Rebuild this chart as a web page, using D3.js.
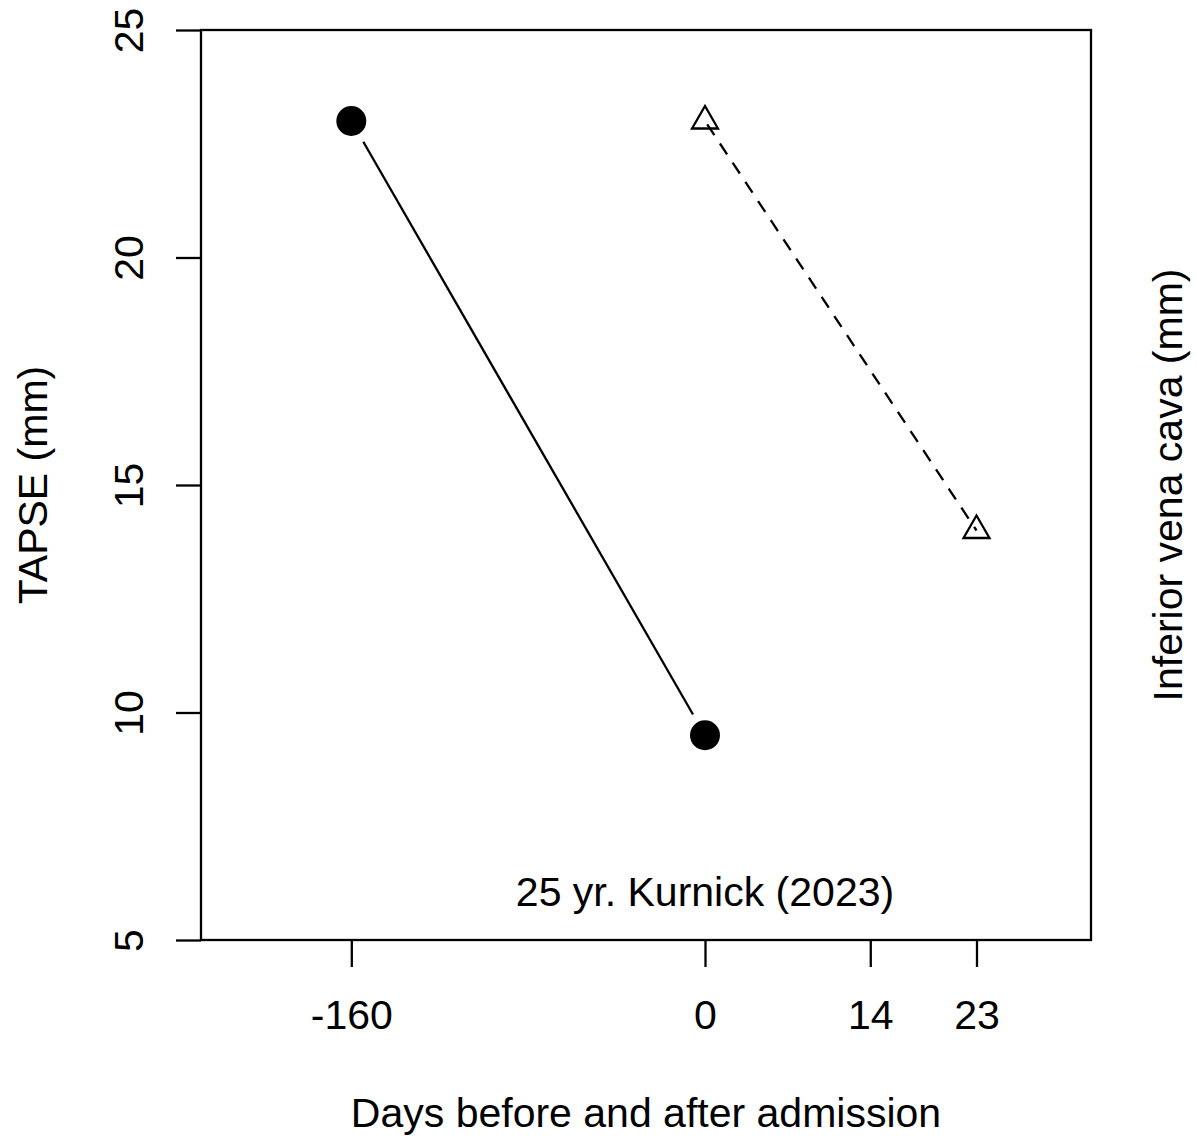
<!DOCTYPE html>
<html>
<head>
<meta charset="utf-8">
<script src="https://cdn.jsdelivr.net/npm/d3@7"></script>
<style>
    body { margin: 0; background: #fff; }
    text { font-family: "Liberation Sans", Arial, sans-serif; fill: #000; }
</style>
</head>
<body>
<div id="chart"></div>
<script>
// TAPSE series (filled circles, solid line)
var tapseDays = [-160, 0];
var tapseValues = [23, 9.5];
// Inferior vena cava series (open triangles, dashed line)
var ivcDays = [0, 23];
var ivcValues = [23, 14];

var xTicks = [-160, 0, 14, 23];
var yTicks = [5, 10, 15, 20, 25];

var width = 1196, height = 1136;
var box = { left: 201, right: 1091, top: 30, bottom: 940 };
var fontSize = 41;
var lw = 2.3;

var svg = d3.select("#chart").append("svg")
    .attr("width", width)
    .attr("height", height);

// days before admission are compressed, days after are stretched
var x = d3.scaleLinear()
    .domain([-228, 0, 32.7])
    .range([box.left, 705, box.right]);

var y = d3.scaleLinear()
    .domain([5, 25])
    .range([box.bottom, box.top]);

// plot frame
svg.append("rect")
    .attr("x", box.left)
    .attr("y", box.top)
    .attr("width", box.right - box.left)
    .attr("height", box.bottom - box.top)
    .attr("fill", "none")
    .attr("stroke", "#000")
    .attr("stroke-width", lw);

// x axis
var xAxis = svg.append("g")
    .attr("transform", "translate(0," + box.bottom + ")")
    .call(d3.axisBottom(x).tickValues(xTicks).tickFormat(function (d) { return String(d); })
        .tickSize(27).tickSizeOuter(0));
xAxis.select(".domain").remove();
xAxis.selectAll(".tick line").attr("stroke-width", lw);
xAxis.selectAll(".tick text")
    .attr("y", 89).attr("dy", null)
    .attr("font-size", fontSize)
    .attr("font-family", "Liberation Sans, Arial, sans-serif");

// y axis, labels rotated like R
var yAxis = svg.append("g")
    .attr("transform", "translate(" + box.left + ",0)")
    .call(d3.axisLeft(y).tickValues(yTicks).tickSize(25).tickSizeOuter(0));
yAxis.select(".domain").remove();
yAxis.selectAll(".tick line").attr("stroke-width", lw);
yAxis.selectAll(".tick text")
    .attr("x", null).attr("dy", null)
    .attr("transform", "translate(-58,0) rotate(-90)")
    .attr("text-anchor", "middle")
    .attr("font-size", fontSize)
    .attr("font-family", "Liberation Sans, Arial, sans-serif");

// axis titles
svg.append("text")
    .attr("x", (box.left + box.right) / 2)
    .attr("y", 1127)
    .attr("text-anchor", "middle")
    .attr("font-size", fontSize)
    .text("Days before and after admission");

svg.append("text")
    .attr("transform", "translate(47," + (box.top + box.bottom) / 2 + ") rotate(-90)")
    .attr("text-anchor", "middle")
    .attr("font-size", fontSize)
    .text("TAPSE (mm)");

svg.append("text")
    .attr("transform", "translate(1182," + (box.top + box.bottom) / 2 + ") rotate(-90)")
    .attr("text-anchor", "middle")
    .attr("font-size", fontSize)
    .text("Inferior vena cava (mm)");

// TAPSE: line with gaps around the points (type = "b")
var gap = 24;
for (var i = 0; i < tapseDays.length - 1; i++) {
    var x0 = x(tapseDays[i]), y0 = y(tapseValues[i]);
    var x1 = x(tapseDays[i + 1]), y1 = y(tapseValues[i + 1]);
    var len = Math.sqrt((x1 - x0) * (x1 - x0) + (y1 - y0) * (y1 - y0));
    var ux = (x1 - x0) / len, uy = (y1 - y0) / len;
    svg.append("line")
        .attr("x1", x0 + ux * gap).attr("y1", y0 + uy * gap)
        .attr("x2", x1 - ux * gap).attr("y2", y1 - uy * gap)
        .attr("stroke", "#000")
        .attr("stroke-width", lw);
}

svg.selectAll(".dot")
    .data(tapseDays)
    .enter().append("circle")
    .attr("class", "dot")
    .attr("cx", function (d) { return x(d); })
    .attr("cy", function (d, i) { return y(tapseValues[i]); })
    .attr("r", 15)
    .attr("fill", "#000");

// IVC: dashed line and open triangles
var ivcLine = d3.line()
    .x(function (d) { return x(d); })
    .y(function (d, i) { return y(ivcValues[i]); });

svg.append("path")
    .datum(ivcDays)
    .attr("d", ivcLine)
    .attr("fill", "none")
    .attr("stroke", "#000")
    .attr("stroke-width", lw)
    .attr("stroke-dasharray", "13,10")
    .attr("stroke-dashoffset", -4);

var tri = d3.symbol().type(d3.symbolTriangle).size(292);
svg.selectAll(".tri")
    .data(ivcDays)
    .enter().append("path")
    .attr("class", "tri")
    .attr("d", tri)
    .attr("transform", function (d, i) { return "translate(" + x(d) + "," + y(ivcValues[i]) + ")"; })
    .attr("fill", "none")
    .attr("stroke", "#000")
    .attr("stroke-width", lw);

// annotation
svg.append("text")
    .attr("x", 705)
    .attr("y", 906)
    .attr("text-anchor", "middle")
    .attr("font-size", fontSize)
    .text("25 yr. Kurnick (2023)");
</script>
</body>
</html>
